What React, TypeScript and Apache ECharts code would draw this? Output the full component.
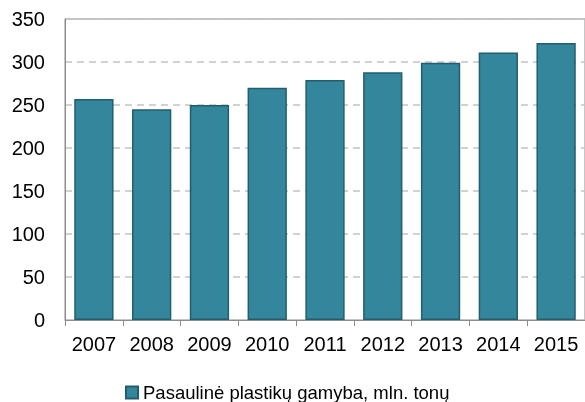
import React, { useEffect, useRef } from "react";
import * as echarts from "echarts";

const categories = ["2007", "2008", "2009", "2010", "2011", "2012", "2013", "2014", "2015"];
const production = [257, 245, 250, 270, 279, 288, 299, 311, 322];
const seriesName = "Pasaulinė plastikų gamyba, mln. tonų";

export default function App() {
  const ref = useRef<HTMLDivElement>(null);
  useEffect(() => {
    if (!ref.current) return;
    const chart = echarts.init(ref.current, undefined, { renderer: "svg" });
    chart.setOption({
      animation: false,
      textStyle: { fontFamily: "Liberation Sans, Arial, sans-serif" },
      grid: {
        left: 65,
        right: -4,
        top: 19,
        bottom: 82,
        show: true,
        borderColor: "#8c8c8c",
        borderWidth: 1,
        backgroundColor: "transparent",
      },
      legend: {
        top: 383,
        left: 125,
        padding: 0,
        itemWidth: 12,
        itemHeight: 12,
        itemGap: 4,
        textStyle: { fontSize: 18.5, color: "#000", fontFamily: "Liberation Sans, Arial, sans-serif" },
        data: [{ name: seriesName, icon: "rect" }],
      },
      xAxis: {
        type: "category",
        data: categories,
        axisLine: { lineStyle: { color: "#8c8c8c", width: 1 } },
        axisTick: { show: true, interval: 0, length: 6, lineStyle: { color: "#8c8c8c" } },
        axisLabel: { color: "#000", fontSize: 20, margin: 14, interval: 0 },
      },
      yAxis: {
        type: "value",
        min: 0,
        max: 350,
        interval: 50,
        axisLine: { show: true, lineStyle: { color: "#8c8c8c" } },
        axisTick: { show: false },
        axisLabel: { color: "#000", fontSize: 20, margin: 20 },
        splitLine: { lineStyle: { color: "#c4c4c4", type: [7, 5], width: 1.5 } },
      },
      series: [
        {
          name: seriesName,
          type: "bar",
          data: production,
          barCategoryGap: "32%",
          itemStyle: { color: "#33869b", borderColor: "#215f6f", borderWidth: 1.5 },
        },
      ],
    });
    return () => chart.dispose();
  }, []);
  return <div ref={ref} style={{ position: "fixed", left: 0, top: 0, width: 585, height: 402 }} />;
}
